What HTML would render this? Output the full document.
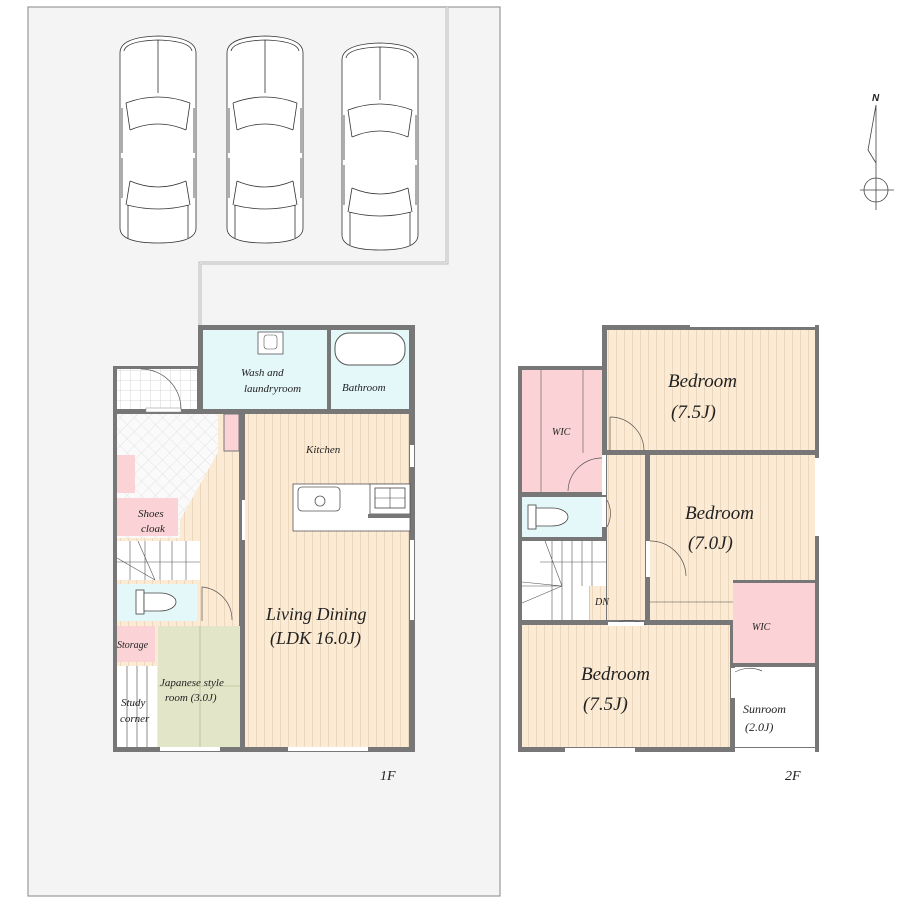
<!DOCTYPE html>
<html><head><meta charset="utf-8"><style>
html,body{margin:0;padding:0;background:#fff;}
svg{display:block;}
text{font-family:"Liberation Serif",serif;font-style:italic;fill:#222;}
</style></head><body>
<svg width="915" height="915" viewBox="0 0 915 915" xmlns="http://www.w3.org/2000/svg">
<defs>
<pattern id="st" width="8" height="10" patternUnits="userSpaceOnUse">
<rect width="8" height="10" fill="#fcebd4"/><line x1="0.5" y1="0" x2="0.5" y2="10" stroke="#e8d2b8" stroke-width="0.8"/>
</pattern>
<pattern id="lat" width="10" height="10" patternUnits="userSpaceOnUse" patternTransform="rotate(45)">
<rect width="10" height="10" fill="#fafafa"/><path d="M0 0H10M0 0V10" stroke="#ddd" stroke-width="0.8"/>
</pattern>
<pattern id="tile" width="10" height="10" patternUnits="userSpaceOnUse">
<rect width="10" height="10" fill="#fff"/><path d="M0 0H10M0 0V10" stroke="#ccc" stroke-width="0.8"/>
</pattern>
<g id="car" fill="none" stroke="#333" stroke-width="0.8">
<path d="M2 20 Q2 4 40 3 Q78 4 78 20 L78 195 Q78 210 40 210 Q2 210 2 195 Z" fill="#fff"/>
<path d="M6 18 Q8 8 40 7 Q72 8 74 18"/>
<line x1="40" y1="7" x2="40" y2="60"/>
<path d="M8 70 Q40 58 72 70"/><path d="M12 97 Q40 85 68 97"/>
<path d="M8 70 L12 97 M72 70 L68 97"/>
<path d="M12 148 Q40 160 68 148"/><path d="M9 172 Q40 180 71 172"/>
<path d="M12 148 L8 172 M68 148 L72 172 M10 172 L10 205 M70 172 L70 205"/>
<path d="M4 75 L4 120 M76 75 L76 120 M4 125 L4 165 M76 125 L76 165"/>
</g>
<g id="wc" fill="#fff" stroke="#444" stroke-width="0.8">
<rect x="0" y="0" width="8" height="24"/>
<path d="M8 3 H24 A16 9 0 0 1 24 21 H8 Z"/>
</g>
</defs>
<rect x="28" y="7" width="472" height="889" fill="#f4f4f4" stroke="#999" stroke-width="1.2"/>
<path d="M447 7 V263 H200 V325" fill="none" stroke="#bbb" stroke-width="3"/>
<path d="M447 7 V263 H200 V325" fill="none" stroke="#f4f4f4" stroke-width="1"/>
<use href="#car" transform="translate(118,33)"/>
<use href="#car" transform="translate(225,33)"/>
<use href="#car" transform="translate(340,40)"/>

<text x="872" y="101" font-size="10" font-weight="bold" style="font-family:'Liberation Sans',sans-serif">N</text>
<path d="M876 105 L868 150 L876 163 M876 105 V210 M860 190 H894" fill="none" stroke="#444" stroke-width="0.8"/>
<circle cx="876" cy="190" r="12" fill="none" stroke="#444" stroke-width="0.8"/>

<!-- 1F -->
<rect x="198" y="325" width="217" height="427" fill="#777"/>
<rect x="113" y="366" width="90" height="386" fill="#777"/>
<rect x="117" y="369" width="80" height="40" fill="url(#tile)"/>
<rect x="203" y="330" width="124" height="79" fill="#e4f8f9"/>
<rect x="331" y="330" width="78" height="79" fill="#e4f8f9"/>
<rect x="117" y="414" width="101" height="124" fill="url(#lat)"/>
<path d="M218 414 L239 414 L239 747 L117 747 L117 538 L180 538 L180 520 L218 452 Z" fill="url(#st)"/>
<path d="M218 452 L180 497 L117 497 L117 414 L218 414 Z" fill="url(#lat)"/>
<rect x="224" y="414" width="15" height="37" fill="#fbd3d6" stroke="#777" stroke-width="1"/>
<rect x="245" y="414" width="164" height="333" fill="url(#st)"/>
<rect x="117" y="455" width="18" height="38" fill="#fbd3d6"/>
<rect x="117" y="498" width="61" height="38" fill="#fbd3d6"/>
<rect x="117" y="541" width="83" height="39" fill="#fff"/>
<path d="M117 562 H200 M130 541 V580 M145 541 V580 M160 541 V580 M172 541 V580 M186 541 V580 M117 558 L155 580 M138 541 L155 580" stroke="#555" stroke-width="0.6" fill="none"/>
<rect x="117" y="584" width="80" height="37" fill="#e4f8f9"/>
<use href="#wc" transform="translate(136,590)"/>
<rect x="202" y="584" width="37" height="37" fill="url(#st)"/>
<rect x="117" y="626" width="38" height="36" fill="#fbd3d6"/>
<rect x="158" y="626" width="82" height="121" fill="#e3e5c9"/>
<path d="M200 626 V747 M158 686 H240" stroke="#aab080" stroke-width="0.6"/>
<rect x="117" y="666" width="40" height="81" fill="#fff"/>
<path d="M127 666 V747 M137 666 V747 M147 666 V747" stroke="#444" stroke-width="0.6"/>
<rect x="240" y="414" width="5" height="333" fill="#777"/>
<rect x="293" y="484" width="117" height="47" fill="#fff" stroke="#555" stroke-width="0.8"/>
<rect x="370" y="484" width="40" height="30" fill="#fff" stroke="#555" stroke-width="0.8"/>
<rect x="368" y="514" width="42" height="4" fill="#777"/>
<rect x="298" y="487" width="42" height="24" rx="4" fill="#fff" stroke="#555" stroke-width="0.8"/>
<circle cx="320" cy="501" r="5" fill="none" stroke="#555" stroke-width="0.8"/>
<rect x="375" y="488" width="30" height="20" fill="#fff" stroke="#444" stroke-width="0.8"/>
<path d="M375 498 H405 M390 488 V508" stroke="#444" stroke-width="0.6"/>
<rect x="335" y="333" width="70" height="32" rx="14" fill="#fff" stroke="#555"/>
<rect x="258" y="332" width="25" height="22" fill="#fff" stroke="#555" stroke-width="0.8"/>
<rect x="264" y="335" width="13" height="14" rx="3" fill="#fff" stroke="#555" stroke-width="0.6"/>
<rect x="146" y="408" width="35" height="4" fill="#fff" stroke="#888" stroke-width="0.5"/>
<path d="M141 369 A40 40 0 0 1 181 409" fill="none" stroke="#555" stroke-width="0.7"/>
<rect x="410" y="445" width="4" height="22" fill="#fff"/>
<rect x="410" y="540" width="4" height="80" fill="#fff"/>
<rect x="288" y="747" width="80" height="4" fill="#fff"/>
<rect x="160" y="747" width="60" height="4" fill="#fff"/>
<rect x="242" y="500" width="3" height="40" fill="#fff"/>
<path d="M202 621 V587 A33 33 0 0 1 232 620" fill="none" stroke="#555" stroke-width="0.7"/>
<text x="241" y="376" font-size="11">Wash and</text>
<text x="244" y="392" font-size="11">laundryroom</text>
<text x="342" y="391" font-size="11">Bathroom</text>
<text x="306" y="453" font-size="11">Kitchen</text>
<text x="138" y="517" font-size="11">Shoes</text>
<text x="141" y="532" font-size="11">cloak</text>
<text x="117" y="648" font-size="10">Storage</text>
<text x="160" y="686" font-size="11">Japanese style</text>
<text x="165" y="701" font-size="11">room (3.0J)</text>
<text x="121" y="706" font-size="11">Study</text>
<text x="120" y="722" font-size="11">corner</text>
<text x="266" y="620" font-size="18">Living Dining</text>
<text x="270" y="644" font-size="18">(LDK 16.0J)</text>
<text x="380" y="780" font-size="14">1F</text>

<!-- 2F -->
<rect x="602" y="325" width="217" height="427" fill="#777"/>
<rect x="518" y="366" width="90" height="386" fill="#777"/>
<rect x="607" y="330" width="208" height="120" fill="url(#st)"/>
<rect x="522" y="370" width="80" height="122" fill="#fbd3d6"/>
<path d="M541 370 V492 M583 370 V453" stroke="#555" stroke-width="0.6"/>
<rect x="522" y="497" width="80" height="40" fill="#e4f8f9"/>
<use href="#wc" transform="translate(528,505)"/>
<rect x="522" y="541" width="84" height="79" fill="#fff"/>
<path d="M540 562 H606 M552 541 V586 M562 541 V586 M572 541 V586 M582 541 V586 M592 541 V586 M562 586 H522 M522 582 L562 586 L545 541 M522 603 L562 586 M552 586 V620 M562 586 V620 M572 586 V620 M590 586 V620" stroke="#555" stroke-width="0.6" fill="none"/>
<rect x="590" y="586" width="16" height="34" fill="url(#st)"/>
<rect x="607" y="455" width="38" height="165" fill="url(#st)"/>
<path d="M650 455 H815 V580 H733 V620 H650 Z" fill="url(#st)"/>
<rect x="733" y="583" width="82" height="80" fill="#fbd3d6"/>
<rect x="522" y="625" width="208" height="122" fill="url(#st)"/>
<rect x="735" y="667" width="80" height="80" fill="#fff"/>
<rect x="645" y="455" width="5" height="165" fill="#777"/>
<path d="M610 417 V451 M610 417 A34 34 0 0 1 644 451 M603 458 A34 34 0 0 0 568 491 M607 500 A28 28 0 0 1 607 527 M650 541 A36 36 0 0 1 686 576 M612 625 A34 34 0 0 1 646 625 M735 672 A30 30 0 0 1 762 671" fill="none" stroke="#555" stroke-width="0.7"/>
<rect x="602" y="455" width="4" height="40" fill="#fff"/>
<rect x="602" y="497" width="4" height="30" fill="#fff"/>
<rect x="646" y="541" width="4" height="36" fill="#fff"/>
<rect x="608" y="622" width="36" height="4" fill="#fff"/>
<rect x="731" y="668" width="4" height="30" fill="#fff"/>
<rect x="690" y="323" width="125" height="4" fill="#fff"/>
<rect x="815" y="458" width="4" height="78" fill="#fff"/>
<rect x="565" y="748" width="70" height="4" fill="#fff"/>
<rect x="735" y="748" width="80" height="4" fill="#fff"/>
<path d="M650 602 H733" stroke="#444" stroke-width="0.6"/>
<text x="668" y="387" font-size="19">Bedroom</text>
<text x="671" y="418" font-size="19">(7.5J)</text>
<text x="552" y="435" font-size="10">WIC</text>
<text x="685" y="519" font-size="19">Bedroom</text>
<text x="688" y="549" font-size="19">(7.0J)</text>
<text x="595" y="605" font-size="10">DN</text>
<text x="752" y="630" font-size="10">WIC</text>
<text x="581" y="680" font-size="19">Bedroom</text>
<text x="583" y="710" font-size="19">(7.5J)</text>
<text x="743" y="713" font-size="12">Sunroom</text>
<text x="745" y="731" font-size="12">(2.0J)</text>
<text x="785" y="780" font-size="14">2F</text>
</svg>
</body></html>
